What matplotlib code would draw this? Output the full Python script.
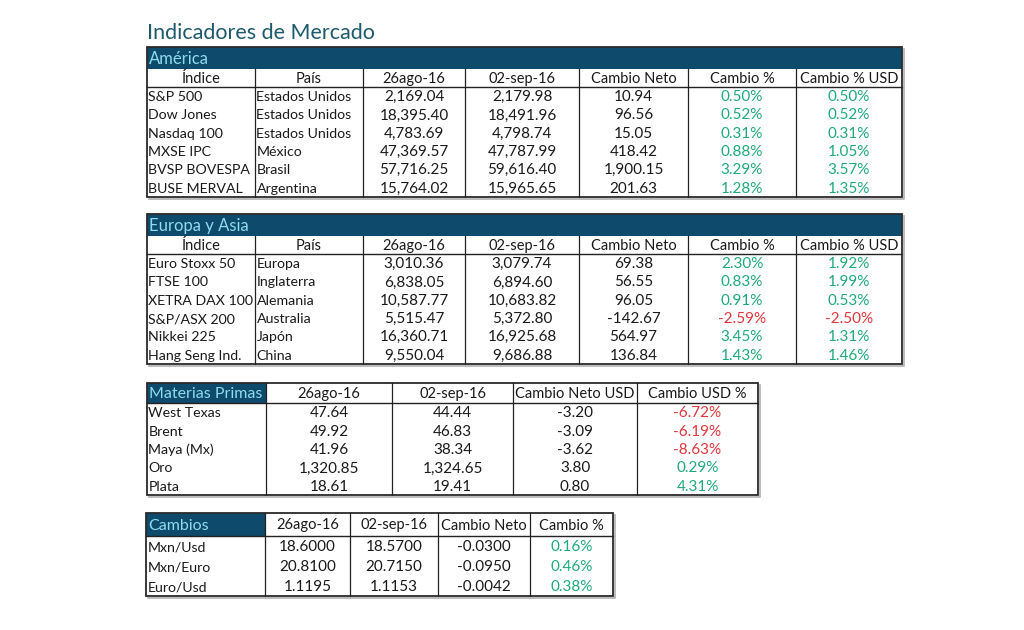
import matplotlib
matplotlib.use("Agg")
import matplotlib.pyplot as plt
from matplotlib.patches import Rectangle

plt.rcParams['font.family'] = ['Lato', 'DejaVu Sans']

# ---- data ----
fecha_1 = "26ago-16"
fecha_2 = "02-sep-16"

america_indice = ["S&P 500", "Dow Jones", "Nasdaq 100", "MXSE IPC", "BVSP BOVESPA", "BUSE MERVAL"]
america_pais = ["Estados Unidos", "Estados Unidos", "Estados Unidos", "México", "Brasil", "Argentina"]
america_ago = [2169.04, 18395.40, 4783.69, 47369.57, 57716.25, 15764.02]
america_sep = [2179.98, 18491.96, 4798.74, 47787.99, 59616.40, 15965.65]
america_neto = [10.94, 96.56, 15.05, 418.42, 1900.15, 201.63]
america_pct = [0.50, 0.52, 0.31, 0.88, 3.29, 1.28]
america_pct_usd = [0.50, 0.52, 0.31, 1.05, 3.57, 1.35]

europa_indice = ["Euro Stoxx 50", "FTSE 100", "XETRA DAX 100", "S&P/ASX 200", "Nikkei 225", "Hang Seng Ind."]
europa_pais = ["Europa", "Inglaterra", "Alemania", "Australia", "Japón", "China"]
europa_ago = [3010.36, 6838.05, 10587.77, 5515.47, 16360.71, 9550.04]
europa_sep = [3079.74, 6894.60, 10683.82, 5372.80, 16925.68, 9686.88]
europa_neto = [69.38, 56.55, 96.05, -142.67, 564.97, 136.84]
europa_pct = [2.30, 0.83, 0.91, -2.59, 3.45, 1.43]
europa_pct_usd = [1.92, 1.99, 0.53, -2.50, 1.31, 1.46]

materias = ["West Texas", "Brent", "Maya (Mx)", "Oro", "Plata"]
materias_ago = [47.64, 49.92, 41.96, 1320.85, 18.61]
materias_sep = [44.44, 46.83, 38.34, 1324.65, 19.41]
materias_neto = [-3.20, -3.09, -3.62, 3.80, 0.80]
materias_pct = [-6.72, -6.19, -8.63, 0.29, 4.31]

cambios = ["Mxn/Usd", "Mxn/Euro", "Euro/Usd"]
cambios_ago = [18.6000, 20.8100, 1.1195]
cambios_sep = [18.5700, 20.7150, 1.1153]
cambios_neto = [-0.0300, -0.0950, -0.0042]
cambios_pct = [0.16, 0.46, 0.38]

# ---- style ----
BAND = "#0d4a6b"
BAND_TXT = "#8fdcf0"
TITLE = "#1d5a6c"
GREEN = "#1faa78"
RED = "#e0363c"
TXT = "#1a1a1a"
FS = 11       # numbers
FS_LBL = 10.2  # left-aligned labels
FS_HEAD = 10.5


def num(v, d=2):
    return f"{v:,.{d}f}"


def pct(v):
    return f"{v:.2f}%"


def pct_color(v):
    return RED if v < 0 else GREEN


fig = plt.figure(figsize=(10.24, 6.3), dpi=100)
ax = fig.add_axes([0, 0, 1, 1])
ax.set_xlim(0, 1024)
ax.set_ylim(630, 0)
ax.axis("off")


def draw_table(x_edges, top, band_h, band_label, head_h, row_h, headers,
               columns, colors, left_cols, corner_label=False):
    x0, x1 = x_edges[0], x_edges[-1]
    y = top
    if band_h:
        ax.add_patch(Rectangle((x0, y), x1 - x0, band_h, facecolor=BAND, edgecolor="none"))
        ax.text(x0 + 2, y + band_h / 2 + 1, band_label, color=BAND_TXT, fontsize=12,
                va="center", ha="left")
        y += band_h
    head_top = y
    if corner_label:
        ax.add_patch(Rectangle((x0, y), x_edges[1] - x0, head_h, facecolor=BAND, edgecolor="none"))
    for i, h in enumerate(headers):
        if corner_label and i == 0:
            ax.text(x0 + 2, y + head_h / 2 + 1, h, color=BAND_TXT, fontsize=11.5,
                    va="center", ha="left")
            continue
        xc = (x_edges[i] + x_edges[i + 1]) / 2
        ax.text(xc, y + head_h / 2 + 1, h, color=TXT, fontsize=FS_HEAD, va="center", ha="center")
    y += head_h
    ax.plot([x0, x1], [y, y], color="#222222", lw=1.0)
    n = len(columns[0])
    bottom = y + n * row_h
    for r in range(n):
        yc = y + (r + 0.5) * row_h + 1
        for c, col in enumerate(columns):
            if c in left_cols:
                ax.text(x_edges[c] + 1.5, yc, col[r], color=TXT, fontsize=FS_LBL, va="center", ha="left")
            else:
                xc = (x_edges[c] + x_edges[c + 1]) / 2
                ax.text(xc, yc, col[r], color=colors[c][r], fontsize=FS, va="center", ha="center")
    for xe in x_edges[1:-1]:
        ax.plot([xe, xe], [head_top, bottom], color="#222222", lw=0.9)
    # drop shadow + outer border
    ax.plot([x0 + 2, x1 + 2, x1 + 2], [bottom + 2, bottom + 2, top + 2], color="#b0b0b0", lw=1.2)
    ax.add_patch(Rectangle((x0, top), x1 - x0, bottom - top, facecolor="none",
                           edgecolor="#2a2a2a", lw=1.3))


ax.text(147, 33, "Indicadores de Mercado", color=TITLE, fontsize=15.5, va="center", ha="left")

headers_ind = ["Índice", "País", fecha_1, fecha_2, "Cambio Neto", "Cambio %", "Cambio % USD"]
edges_ind = [147, 255, 363, 465, 579, 688, 796, 902]

for label, top, ind, pais, ago, sep, neto, p, pu in [
        ("América", 47, america_indice, america_pais, america_ago, america_sep,
         america_neto, america_pct, america_pct_usd),
        ("Europa y Asia", 214, europa_indice, europa_pais, europa_ago, europa_sep,
         europa_neto, europa_pct, europa_pct_usd)]:
    cols = [ind, pais, [num(v) for v in ago], [num(v) for v in sep],
            [num(v) for v in neto], [pct(v) for v in p], [pct(v) for v in pu]]
    colors = [[TXT] * len(ind)] * 5 + [[pct_color(v) for v in p], [pct_color(v) for v in pu]]
    draw_table(edges_ind, top, 22, label, 18, 18.3, headers_ind, cols, colors, left_cols=(0, 1))

cols = [materias, [num(v) for v in materias_ago], [num(v) for v in materias_sep],
        [num(v) for v in materias_neto], [pct(v) for v in materias_pct]]
colors = [[TXT] * len(materias)] * 4 + [[pct_color(v) for v in materias_pct]]
draw_table([147, 266, 392, 513, 637, 758], 383, 0, None, 20, 18.4,
           ["Materias Primas", fecha_1, fecha_2, "Cambio Neto USD", "Cambio USD %"],
           cols, colors, left_cols=(0,), corner_label=True)

cols = [cambios, [num(v, 4) for v in cambios_ago], [num(v, 4) for v in cambios_sep],
        [num(v, 4) for v in cambios_neto], [pct(v) for v in cambios_pct]]
colors = [[TXT] * len(cambios)] * 4 + [[pct_color(v) for v in cambios_pct]]
draw_table([146, 265, 350, 438, 530, 613], 513, 0, None, 23, 20,
           ["Cambios", fecha_1, fecha_2, "Cambio Neto", "Cambio %"],
           cols, colors, left_cols=(0,), corner_label=True)

fig.savefig("out.png", dpi=100, facecolor="white")
